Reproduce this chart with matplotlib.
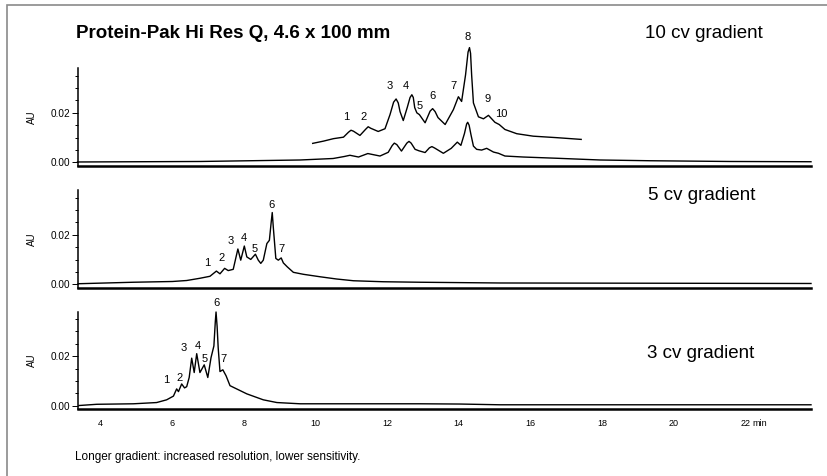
import numpy as np
import matplotlib
matplotlib.use("Agg")
import matplotlib.pyplot as plt
from matplotlib.patches import Rectangle

plt.rcParams['font.family'] = ['Liberation Sans', 'DejaVu Sans']

# 10 cv gradient, full trace (min, AU)
t10 = [3.35, 6.77, 9.57, 10.49, 10.80, 10.96, 11.20, 11.46, 11.80, 12.03, 12.14, 12.20, 12.27, 12.40,
       12.55, 12.61, 12.67, 12.78, 12.89, 13.06, 13.18, 13.25, 13.33, 13.57, 13.79, 13.96, 14.06,
       14.16, 14.22, 14.25, 14.29, 14.34, 14.41, 14.50, 14.64, 14.78, 14.97, 15.11, 15.29, 15.80,
       16.74, 17.95, 19.34, 21.58, 23.84]
au10 = [0.0002, 0.0004, 0.0010, 0.0016, 0.0024, 0.0029, 0.0022, 0.0036, 0.0026, 0.0041, 0.0068, 0.0078, 0.0072, 0.0046,
        0.0078, 0.0085, 0.0078, 0.0053, 0.0047, 0.0040, 0.0059, 0.0064, 0.0058, 0.0037, 0.0057, 0.0082, 0.0069,
        0.0117, 0.0155, 0.0162, 0.0150, 0.0113, 0.0066, 0.0053, 0.0050, 0.0057, 0.0042, 0.0037, 0.0026, 0.0022,
        0.0017, 0.0010, 0.0007, 0.0004, 0.0003]

# 10 cv gradient, expanded/offset trace
t10z = [9.92, 10.22, 10.50, 10.78, 10.92, 10.99, 11.06, 11.24, 11.40, 11.47, 11.54, 11.75, 11.94,
        12.08, 12.18, 12.25, 12.31, 12.36, 12.45, 12.56, 12.64, 12.69, 12.73, 12.77, 12.83, 12.90,
        13.06, 13.20, 13.27, 13.34, 13.42, 13.62, 13.85, 13.99, 14.08, 14.19, 14.26, 14.30, 14.33,
        14.36, 14.41, 14.55, 14.69, 14.83, 15.01, 15.13, 15.29, 15.62, 16.08, 16.74, 17.42]
au10z = [0.0077, 0.0086, 0.0096, 0.0102, 0.0122, 0.0130, 0.0126, 0.0109, 0.0134, 0.0144, 0.0138, 0.0125, 0.0136,
         0.0193, 0.0243, 0.0256, 0.0240, 0.0205, 0.0169, 0.0221, 0.0262, 0.0273, 0.0262, 0.0221, 0.0200, 0.0193,
         0.0160, 0.0207, 0.0217, 0.0205, 0.0181, 0.0153, 0.0213, 0.0265, 0.0246, 0.0353, 0.0445, 0.0463, 0.0440,
         0.0353, 0.0240, 0.0184, 0.0176, 0.0190, 0.0162, 0.0153, 0.0133, 0.0116, 0.0106, 0.0100, 0.0093]
pk10_t = [10.87, 11.35, 12.06, 12.53, 12.90, 13.27, 13.85, 14.25, 14.81, 15.18]
pk10_au = [0.0184, 0.0184, 0.0309, 0.0309, 0.0226, 0.0266, 0.0309, 0.0507, 0.0257, 0.0196]

# 5 cv gradient
t5 = [3.37, 4.91, 6.00, 6.40, 6.77, 7.05, 7.23, 7.33, 7.46, 7.56, 7.70, 7.83, 7.91, 8.01, 8.08,
      8.19, 8.32, 8.40, 8.47, 8.54, 8.64, 8.71, 8.76, 8.79, 8.82, 8.89, 8.96, 9.04, 9.10, 9.21,
      9.38, 9.66, 10.13, 10.59, 11.06, 11.89, 12.92, 15.15, 23.84]
au5 = [0.0003, 0.0009, 0.0012, 0.0016, 0.0025, 0.0033, 0.0054, 0.0043, 0.0065, 0.0056, 0.0061, 0.0143, 0.0098, 0.0155, 0.0111,
       0.0101, 0.0122, 0.0098, 0.0085, 0.0098, 0.0165, 0.0178, 0.0250, 0.0290, 0.0230, 0.0105, 0.0098, 0.0107, 0.0087, 0.0071,
       0.0049, 0.0041, 0.0031, 0.0022, 0.0015, 0.0011, 0.0009, 0.0006, 0.0004]
pk5_t = [6.98, 7.38, 7.63, 7.99, 8.29, 8.78, 9.06]
pk5_au = [0.0085, 0.0107, 0.0175, 0.0187, 0.0143, 0.0321, 0.0145]

# 3 cv gradient
t3 = [3.39, 3.89, 4.91, 5.56, 5.84, 6.03, 6.12, 6.17, 6.26, 6.34, 6.40, 6.47, 6.54, 6.61,
      6.68, 6.77, 6.89, 6.99, 7.08, 7.16, 7.20, 7.22, 7.25, 7.28, 7.33, 7.41, 7.50, 7.61,
      8.08, 8.54, 8.92, 9.57, 12.92, 14.04, 15.15, 23.84]
au3 = [0.0001, 0.0006, 0.0008, 0.0013, 0.0024, 0.0039, 0.0068, 0.0057, 0.0088, 0.0072, 0.0077, 0.0114, 0.0192, 0.0134,
       0.0210, 0.0134, 0.0165, 0.0114, 0.0194, 0.0241, 0.0340, 0.0378, 0.0320, 0.0234, 0.0138, 0.0145, 0.0121, 0.0081,
       0.0048, 0.0024, 0.0013, 0.0008, 0.0008, 0.0007, 0.0004, 0.0004]
pk3_t = [5.82, 6.21, 6.31, 6.70, 6.89, 7.22, 7.43]
pk3_au = [0.0104, 0.0110, 0.0232, 0.0241, 0.0190, 0.0414, 0.0190]

x_ticks = [4, 6, 8, 10, 12, 14, 16, 18, 20, 22]
panel_names = ["10 cv gradient", "5 cv gradient", "3 cv gradient"]

W, H = 827, 476
fig = plt.figure(figsize=(W / 100, H / 100), dpi=100)

# gray frame (open at right/bottom like the reference crop)
fig.add_artist(Rectangle((7 / W, -0.1), 1.2, 1 - 5 / H + 0.1, transform=fig.transFigure,
                         fill=False, edgecolor='#8a8a8a', lw=1.2))

ylo, yhi = -0.0013, 0.038
spines_px = [165.7, 287.7, 409.0]
ax_h = 97.5
axes = []
for sp in spines_px:
    ax = fig.add_axes([77.5 / W, (H - sp) / H, 733.5 / W, ax_h / H])
    ax.set_xlim(3.35, 23.84)
    ax.set_ylim(ylo, yhi)
    for s in ['top', 'right']:
        ax.spines[s].set_visible(False)
    ax.spines['left'].set_linewidth(1.1)
    ax.spines['bottom'].set_linewidth(1.8)
    ax.set_yticks([0.0, 0.02])
    ax.set_yticklabels(['0.00', '0.02'])
    ax.set_yticks(np.arange(0, 0.036, 0.005), minor=True)
    ax.tick_params(axis='y', which='major', length=4, width=0.7, labelsize=7.2, pad=1.5)
    ax.tick_params(axis='y', which='minor', length=2, width=0.7)
    ax.set_xticks(x_ticks)
    ax.set_xticklabels([str(v) for v in x_ticks])
    ax.tick_params(axis='x', length=0, labelsize=6.5, pad=7)
    ax.set_ylabel('AU', fontsize=7)
    ax.yaxis.set_label_coords(-0.055, 0.5)
    ax.patch.set_alpha(0)
    axes.append(ax)

for ax in axes[:2]:
    ax.tick_params(axis='x', labelbottom=False)

axes[2].annotate('min', xy=(22, 0), xycoords=('data', 'axes fraction'),
                 xytext=(5.2, -7), textcoords='offset points', ha='left', va='top', fontsize=6.5)

lw = 1.0
kw = dict(color='black', lw=lw, clip_on=False, solid_joinstyle='round')
axes[0].plot(t10, au10, **kw)
axes[0].plot(t10z, au10z, **kw)
axes[1].plot(t5, au5, **kw)
axes[2].plot(t3, au3, **kw)

for ax, pt, pa in [(axes[0], pk10_t, pk10_au), (axes[1], pk5_t, pk5_au), (axes[2], pk3_t, pk3_au)]:
    for i, (x, y) in enumerate(zip(pt, pa)):
        ax.text(x, y, str(i + 1), ha='center', va='center', fontsize=8, clip_on=False)

label_pos = [(645, 33), (648, 196), (647, 353)]
for name, (px, py) in zip(panel_names, label_pos):
    fig.text(px / W, 1 - py / H, name, ha='left', va='center', fontsize=13.5)

fig.text(76 / W, 1 - 33 / H, "Protein-Pak Hi Res Q, 4.6 x 100 mm", ha='left', va='center',
         fontsize=13.5, fontweight='bold')
fig.text(75 / W, 1 - 457 / H, "Longer gradient: increased resolution, lower sensitivity.",
         ha='left', va='center', fontsize=8.5)

fig.savefig('out.png', dpi=100)
